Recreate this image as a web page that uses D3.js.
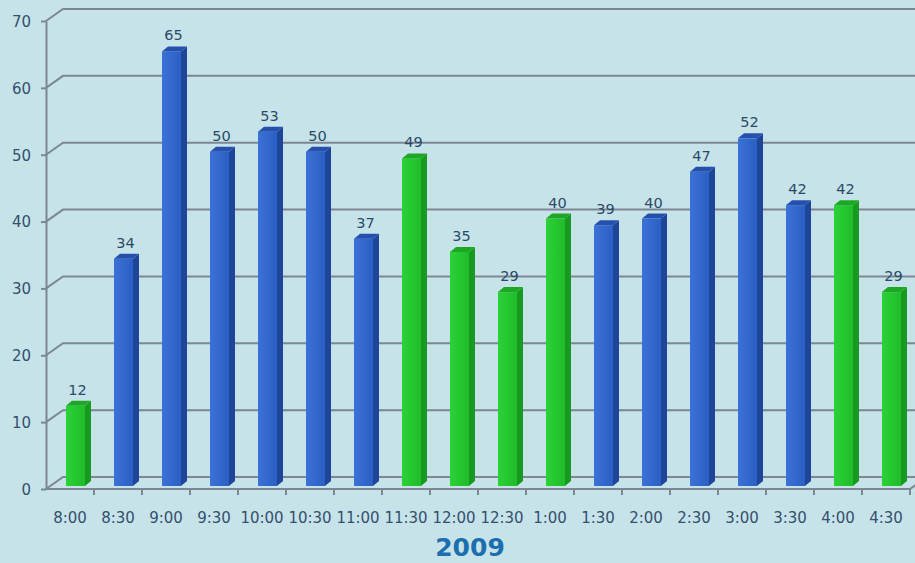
<!DOCTYPE html>
<html>
<head>
<meta charset="utf-8">
<script src="https://cdn.jsdelivr.net/npm/d3@7"></script>
<style>
  html, body { margin: 0; padding: 0; background: #c6e3ea; }
  svg { display: block; }
</style>
</head>
<body>
<svg id="chart" width="915" height="563"></svg>
<script>
// chart values
var times = ["8:00","8:30","9:00","9:30","10:00","10:30","11:00","11:30","12:00","12:30","1:00","1:30","2:00","2:30","3:00","3:30","4:00","4:30"];
var counts = [12,34,65,50,53,50,37,49,35,29,40,39,40,47,52,42,42,29];
var greenSlots = ["8:00","11:30","12:00","12:30","1:00","4:00","4:30"];
var yTicks = [0,10,20,30,40,50,60,70];
var title = "2009";

var svg = d3.select('#chart');
var W = 915, H = 563;
var plotLeft = 46, plotRight = 910, plotTop = 21, plotBottom = 489;
var depthX = 17, depthY = 12;

svg.append('rect').attr('width', W).attr('height', H).attr('fill', '#c6e3ea');

var x = d3.scaleBand().domain(times).range([plotLeft, plotRight]).padding(0);
var y = d3.scaleLinear().domain([0, 70]).range([plotBottom, plotTop]);

var defs = svg.append('defs');
function grad(id, c1, c2){
	var g = defs.append('linearGradient').attr('id', id)
		.attr('x1', '0%').attr('x2', '100%').attr('y1', '0%').attr('y2', '0%');
	g.append('stop').attr('offset', '0%').attr('stop-color', c1);
	g.append('stop').attr('offset', '100%').attr('stop-color', c2);
}
grad('blueFront', '#3a72d6', '#2c5fc4');
grad('greenFront', '#2bd236', '#1fbc29');

var lineCol = '#7c8794';
var txtCol = '#34506c';
var font = 'DejaVu Sans, Verdana, sans-serif';

// back wall gridlines + diagonals
svg.append('g').selectAll('path')
	.data(yTicks)
	.enter()
	.append('path')
	.attr('d', function(d){
		var yy = y(d);
		return 'M' + plotLeft + ',' + yy + 'L' + (plotLeft + depthX) + ',' + (yy - depthY) + 'L' + (W + 2) + ',' + (yy - depthY);
	})
	.attr('fill', 'none')
	.attr('stroke', lineCol)
	.attr('stroke-width', 2);

// floor front edge with right diagonal
svg.append('path')
	.attr('d', 'M' + plotLeft + ',' + plotBottom + 'L' + plotRight + ',' + plotBottom + 'L' + (plotRight + depthX) + ',' + (plotBottom - depthY))
	.attr('fill', 'none')
	.attr('stroke', lineCol)
	.attr('stroke-width', 2);

// y axis
var yAxis = svg.append('g')
	.attr('transform', 'translate(' + plotLeft + ',0)')
	.call(d3.axisLeft(y).tickValues(yTicks).tickSize(5).tickSizeOuter(0));
yAxis.select('.domain').attr('stroke', lineCol).attr('stroke-width', 2);
yAxis.selectAll('.tick line').attr('stroke', lineCol).attr('stroke-width', 2);
yAxis.selectAll('.tick text')
	.attr('x', -15)
	.attr('dy', '0.36em')
	.attr('fill', txtCol)
	.attr('font-family', font)
	.attr('font-size', '15px');

// x axis
var xAxis = svg.append('g')
	.attr('transform', 'translate(0,' + plotBottom + ')')
	.call(d3.axisBottom(x).tickSize(0).tickSizeOuter(0));
xAxis.select('.domain').remove();
xAxis.selectAll('.tick text')
	.attr('y', 34)
	.attr('dy', 0)
	.attr('fill', txtCol)
	.attr('font-family', font)
	.attr('font-size', '15px');
// tick marks at band boundaries
svg.append('g').selectAll('line')
	.data(times)
	.enter()
	.append('line')
	.attr('x1', function(d){ return x(d) + x.bandwidth(); })
	.attr('x2', function(d){ return x(d) + x.bandwidth(); })
	.attr('y1', plotBottom)
	.attr('y2', plotBottom + 6)
	.attr('stroke', lineCol)
	.attr('stroke-width', 2);

// 3d bars
var fw = 19, sd = 6, td = 5;
var bars = svg.append('g').selectAll('g')
	.data(times.map(function(t, i){ return {t: t, v: counts[i], g: greenSlots.indexOf(t) >= 0}; }))
	.enter()
	.append('g');

function bx(d){ return x(d.t) + x.bandwidth() / 2 - 4; }
function base(){ return y(0) - 3; }
function btop(d){ return y(d.v) - 3; }

bars.append('rect')
	.attr('x', bx)
	.attr('y', btop)
	.attr('width', fw)
	.attr('height', function(d){ return base() - btop(d); })
	.attr('fill', function(d){ return d.g ? 'url(#greenFront)' : 'url(#blueFront)'; });

bars.append('path')
	.attr('d', function(d){
		var x0 = bx(d) + fw, t = btop(d), b = base();
		return 'M' + x0 + ',' + t + 'L' + (x0 + sd) + ',' + (t - td) + 'L' + (x0 + sd) + ',' + (b - td) + 'L' + x0 + ',' + b + 'Z';
	})
	.attr('fill', function(d){ return d.g ? '#179a1e' : '#1e4597'; });

bars.append('path')
	.attr('d', function(d){
		var x0 = bx(d), t = btop(d);
		return 'M' + x0 + ',' + t + 'L' + (x0 + sd) + ',' + (t - td) + 'L' + (x0 + fw + sd) + ',' + (t - td) + 'L' + (x0 + fw) + ',' + t + 'Z';
	})
	.attr('fill', function(d){ return d.g ? '#1ea726' : '#2550ad'; });

// value labels
bars.append('text')
	.attr('x', function(d){ return bx(d) + (fw + sd) / 2 - 1; })
	.attr('y', function(d){ return btop(d) - 11; })
	.attr('text-anchor', 'middle')
	.attr('fill', '#2c4a66')
	.attr('font-family', font)
	.attr('font-size', '14.5px')
	.text(function(d){ return d.v; });

// title
svg.append('text')
	.attr('x', 470)
	.attr('y', 556)
	.attr('text-anchor', 'middle')
	.attr('fill', '#1b6fae')
	.attr('font-family', font)
	.attr('font-weight', 'bold')
	.attr('font-size', '25px')
	.text(title);
</script>
</body>
</html>
